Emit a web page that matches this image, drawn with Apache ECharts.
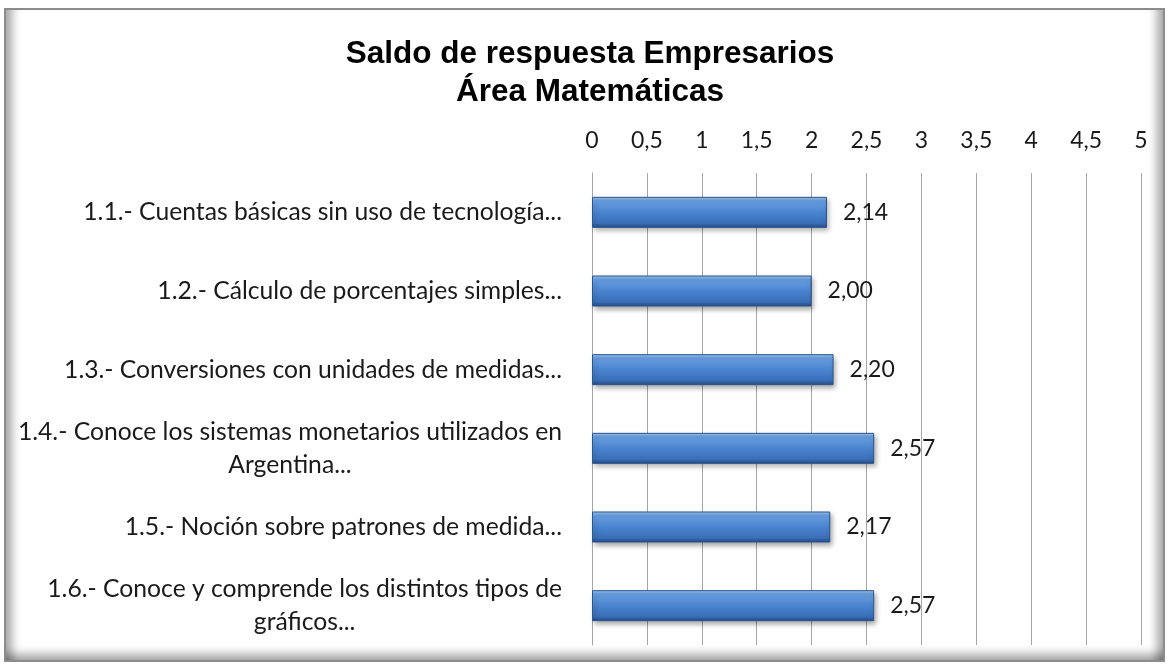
<!DOCTYPE html>
<html>
<head>
<meta charset="utf-8">
<script src="https://cdn.jsdelivr.net/npm/echarts@6/dist/echarts.min.js"></script>
<style>
html,body{margin:0;padding:0;background:#fff;}
#frame{position:absolute;left:4px;top:8px;width:1157px;height:650px;border:2px solid #8c8c8c;
box-shadow: inset 14px 0 10px -8px rgba(0,0,0,0.35), inset -14px 0 10px -8px rgba(0,0,0,0.35), inset 0 -14px 10px -8px rgba(0,0,0,0.35);}
#chart{position:absolute;left:0;top:0;width:1167px;height:668px;}
</style>
</head>
<body>
<div id="frame"></div>
<div id="chart"></div>
<script>
const titleText = 'Saldo de respuesta Empresarios\nÁrea Matemáticas';
const categories = [
  '1.1.- Cuentas básicas sin uso de tecnología...',
  '1.2.- Cálculo de porcentajes simples...',
  '1.3.- Conversiones con unidades de medidas...',
  '1.4.- Conoce los sistemas monetarios utilizados en\nArgentina...',
  '1.5.- Noción sobre patrones de medida...',
  '1.6.- Conoce y comprende los distintos tipos de\ngráficos...'
];
const values = [2.14, 2.00, 2.20, 2.57, 2.17, 2.57];
const axisMin = 0, axisMax = 5, axisStep = 0.5;

const chart = echarts.init(document.getElementById('chart'), null, {renderer:'canvas'});
const FONT = 'Lato';
chart.setOption({
  backgroundColor: 'transparent',
  title: {
    text: titleText,
    left: 585, top: 30, textAlign: 'center',
    textStyle: {fontFamily: 'Liberation Sans', fontSize: 31.5, fontWeight: 'bold', color: '#000', lineHeight: 38}
  },
  grid: {left: 592, right: 26, top: 173, bottom: 23, containLabel: false},
  xAxis: {
    type: 'value', position: 'top', min: axisMin, max: axisMax, interval: axisStep,
    axisLine: {show: false}, axisTick: {show: false},
    splitLine: {show: true, lineStyle: {color: '#a6a6a6', width: 1}},
    axisLabel: {margin: 21, fontFamily: FONT, fontSize: 23, color: '#1a1a1a',
      formatter: v => String(v).replace('.', ',')}
  },
  yAxis: {
    type: 'category', inverse: true, data: categories,
    axisLine: {show: true, lineStyle: {color: '#a6a6a6'}}, axisTick: {show: false},
    axisLabel: {
      margin: 30, fontFamily: FONT, fontSize: 24.7, color: '#1a1a1a', lineHeight: 33,
      formatter: v => v.split('\n').map(s => '{c|' + s + '}').join('\n'),
      rich: {c: {align: 'center', fontFamily: FONT, fontSize: 24.7, color: '#1a1a1a', lineHeight: 33}}
    }
  },
  series: [{
    type: 'bar', data: values, barWidth: 31,
    itemStyle: {
      color: new echarts.graphic.LinearGradient(0, 0, 0, 1, [
        {offset: 0, color: '#a4c8f2'},
        {offset: 0.12, color: '#6aa1e2'},
        {offset: 0.5, color: '#4a84cf'},
        {offset: 0.85, color: '#3a6fb8'},
        {offset: 1, color: '#23497f'}
      ]),
      borderColor: '#2a5590', borderWidth: 1,
      shadowColor: 'rgba(0,0,0,0.35)', shadowBlur: 5, shadowOffsetX: 2, shadowOffsetY: 3
    },
    label: {
      show: true, position: 'right', distance: 16, fontFamily: FONT, fontSize: 23, color: '#1a1a1a',
      formatter: p => p.value.toFixed(2).replace('.', ',')
    }
  }]
});
</script>
</body>
</html>
